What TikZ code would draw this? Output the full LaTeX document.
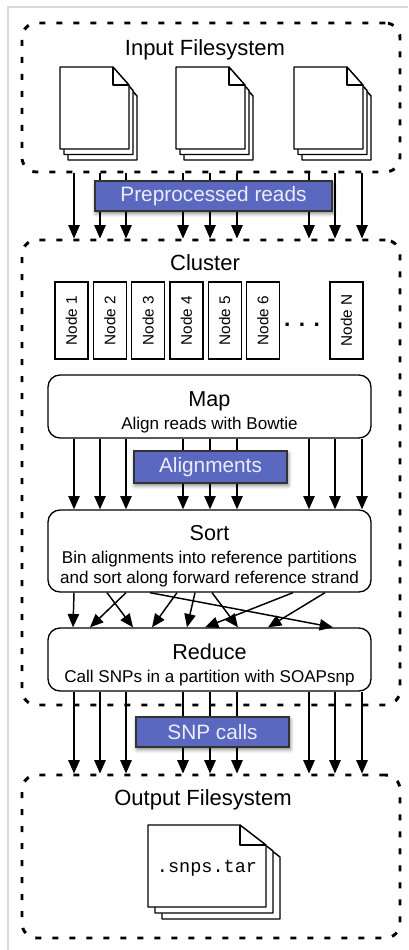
\documentclass[tikz,border=0pt]{standalone}
\usepackage{fontspec}
\setmainfont{Liberation Sans}
\setmonofont{Liberation Mono}
\usetikzlibrary{arrows.meta,shadows.blur}
\definecolor{datablue}{RGB}{91,104,192}
\definecolor{datatext}{RGB}{236,236,250}
\tikzset{
  fsbox/.style={draw, line width=2.2pt, dash pattern=on 4.5pt off 8.25pt, rounded corners=11pt, inner sep=0pt, minimum width=283.5pt},
  fstitle/.style={anchor=base, font=\fontsize{16.5}{20}\selectfont},
  stagebox/.style={draw, line width=1pt, rounded corners=9pt, fill=white, inner sep=0pt, minimum width=242.25pt, align=center, font=\fontsize{12.8}{15}\selectfont},
  workerbox/.style={draw, line width=1pt, fill=white, inner sep=0pt, minimum width=57.75pt, minimum height=24.75pt, rotate=90, font=\fontsize{11.5}{14}\selectfont},
  databox/.style={draw=black!80, line width=1pt, fill=datablue, text=datatext, inner sep=0pt, font=\fontsize{15.6}{18}\selectfont, blur shadow={shadow xshift=0.8pt, shadow yshift=-1.8pt, shadow blur radius=3pt, shadow opacity=50}},
  flow/.style={-{Triangle[length=10pt,width=8.5pt]}, line width=1.1pt},
  page/.style={draw, fill=white, line width=1.1pt, line join=round}
}
\newcommand\docpage[6]{%
  \draw[page] (#1,#2) -- (#1+#3-#5,#2) -- (#1+#3,#2+#6) -- (#1+#3,#2+#4) -- (#1,#2+#4) -- cycle;}
\newcommand\docstack[8]{%
  \foreach \k in {2,1,0} {\docpage{#1+\k*#7}{#2+\k*#8}{#3}{#4}{#5}{#6}}
  \draw[page, fill=none] (#1+#3-#5,#2) -- (#1+#3-#5,#2+#6) -- (#1+#3,#2+#6);}
\newcommand\stagetitle[1]{{\fontsize{16.2}{19}\selectfont\rule{0pt}{19.3pt}#1}}
\begin{document}
\begin{tikzpicture}[x=0.75pt, y=-0.75pt]
\useasboundingbox (0,0) rectangle (408,950);
\draw[black!15, line width=0.8pt] (8,950) |- (408,7);
% filesystems and cluster
\node[fsbox, minimum height=111.75pt] (infs) at (211,97.5) {};
\node[fsbox, minimum height=348.75pt] (cluster) at (211,472.5) {};
\node[fsbox, minimum height=122.25pt] (outfs) at (211,856.5) {};
\node[fstitle] (intitle) at (205,55) {Input Filesystem};
\node[fstitle] (clustertitle) at (205,270.5) {Cluster};
\node[fstitle] (outtitle) at (203,805.5) {Output Filesystem};
% input files
\foreach \x in {60,176,294} {\docstack{\x}{67}{69}{82}{16}{18}{4}{5.5}}
% worker nodes
\foreach \i in {1,...,6}
  \node[workerbox] (worker\i) at ({71.5+38.3*(\i-1)},320.5) {Node \i};
\node[workerbox] (workerN) at (346.5,320.5) {Node N};
\node[font=\fontsize{17}{20}\selectfont\bfseries] (dots) at (302,325) {. . .};
% stages
\node[stagebox, minimum height=47.25pt] (map) at (209.5,406.5)
  {\stagetitle{Map}\\[2.3pt] Align reads with Bowtie};
\node[stagebox, minimum height=61.5pt] (sort) at (209.5,551)
  {\stagetitle{Sort}\\[2.3pt] Bin alignments into reference partitions\\ and sort along forward reference strand};
\node[stagebox, minimum height=47.25pt] (reduce) at (209.5,659.5)
  {\stagetitle{Reduce}\\[2.3pt] Call SNPs in a partition with SOAPsnp};
% data flow
\foreach \x in {74,100,126,183,210,237,309,335,362} {
  \draw[flow] (infs.south -| \x,0) -- (cluster.north -| \x,0);
  \draw[flow] (map.south -| \x,0) -- (sort.north -| \x,0);
  \draw[flow] (reduce.south -| \x,0) -- (outfs.north -| \x,0);
}
\foreach \a/\b in {74/73,107/133,126/90,177/152,195/187,212/238,150/333,293/205,325/268}
  \draw[flow] (sort.south -| \a,0) -- (reduce.north -| \b,0);
\node[databox, minimum width=177.75pt, minimum height=22.5pt] (reads) at (213.5,196) {Preprocessed reads};
\node[databox, minimum width=114.75pt, minimum height=24pt] (alignments) at (210.5,467) {Alignments};
\node[databox, minimum width=114.75pt, minimum height=22.5pt] (snpcalls) at (212.5,732) {SNP calls};
% output file
\docstack{148}{825}{118}{82}{26}{20}{7}{6}
\node[anchor=base, font=\ttfamily\fontsize{13.9}{16}\selectfont] (tarfile) at (207,872) {.snps.tar};
\end{tikzpicture}
\end{document}
